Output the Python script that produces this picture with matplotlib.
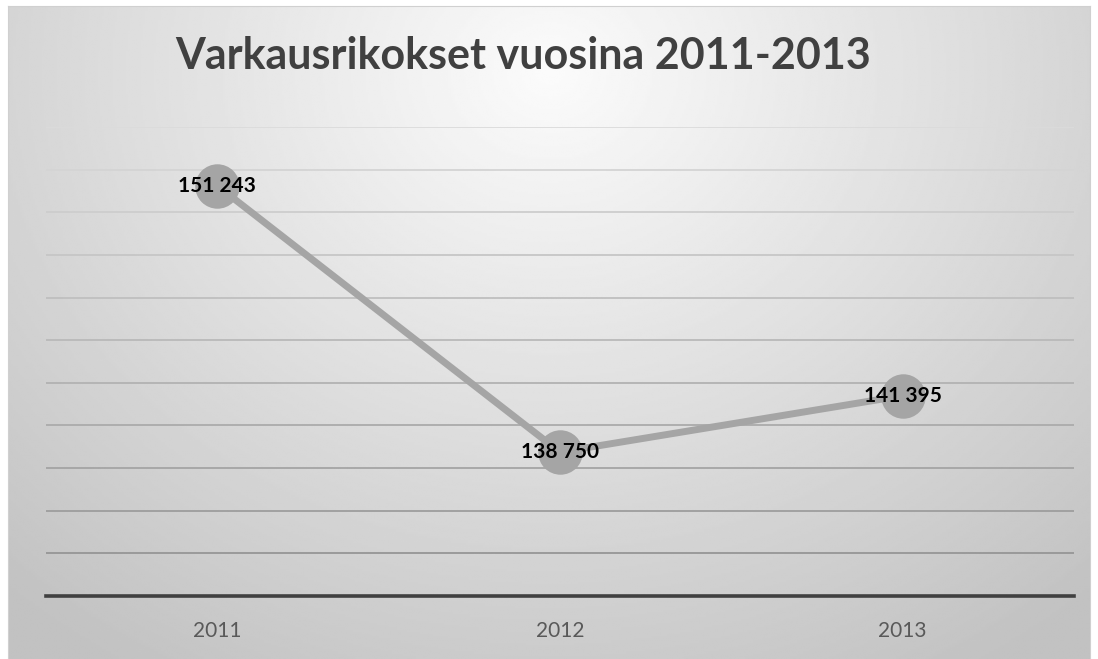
import numpy as np
import matplotlib
matplotlib.use('Agg')
from matplotlib import pyplot as plt

years = ['2011', '2012', '2013']
thefts = [151243, 138750, 141395]
labels = ['151 243', '138 750', '141 395']

plt.rcParams['font.family'] = ['Lato', 'DejaVu Sans']

fig = plt.figure(figsize=(10.98, 6.59), dpi=100)
fig.patch.set_facecolor('white')

# taustan liukuväri (kirkkain ylhäällä keskellä)
bg = fig.add_axes([8 / 1098, 0, 1082 / 1098, 653 / 659])
h, w = 300, 500
yy, xx = np.mgrid[0:h, 0:w]
dx = (xx / w - 0.5) * 1.0
dy = (yy / h - 0.1) * 0.7
r = np.sqrt(dx ** 2 + dy ** 2)
shade = np.clip(0.985 - 0.30 * r, 0.76, 1.0)
bg.imshow(shade, cmap='gray', vmin=0, vmax=1, aspect='auto', interpolation='bilinear')
bg.set_xticks([])
bg.set_yticks([])
for s in bg.spines.values():
    s.set_color('#D0D0D0')
    s.set_linewidth(0.8)

ax = fig.add_axes([46 / 1098, 63 / 659, 1028 / 1098, 469 / 659])
ax.patch.set_alpha(0)
x = np.arange(len(years))
ax.plot(x, thefts, color='#A5A5A5', linewidth=5, marker='o', markersize=32,
        markeredgewidth=0, solid_capstyle='round', zorder=3)
for xi, v, lab in zip(x, thefts, labels):
    ax.text(xi, v, lab, ha='center', va='center', fontsize=15, fontweight='bold',
            color='black', zorder=4)

ax.set_xlim(-0.5, 2.5)
ax.set_ylim(132000, 154000)
ax.set_yticks(np.arange(132000, 154001, 2000))
ax.set_xticks(x)
ax.set_xticklabels(years, fontsize=15, color='#595959')
ax.tick_params(axis='x', length=0, pad=18)
ax.tick_params(axis='y', length=0, labelleft=False)
ax.grid(axis='y', linewidth=1.3)
# viivat tummuvat alaspäin
ticks = ax.yaxis.get_major_ticks()
n = len(ticks)
for i, t in enumerate(ticks):
    g = 0.56 + 0.30 * i / (n - 1)
    t.gridline.set_color((g, g, g))
for s in ['top', 'right', 'left']:
    ax.spines[s].set_visible(False)
ax.spines['bottom'].set_color('#404040')
ax.spines['bottom'].set_linewidth(2.6)

fig.text(523 / 1098, 1 - 56 / 659, 'Varkausrikokset vuosina 2011-2013', ha='center',
         va='center', fontsize=31, fontweight='bold', color='#404040')

plt.savefig('out.png', dpi=100)
